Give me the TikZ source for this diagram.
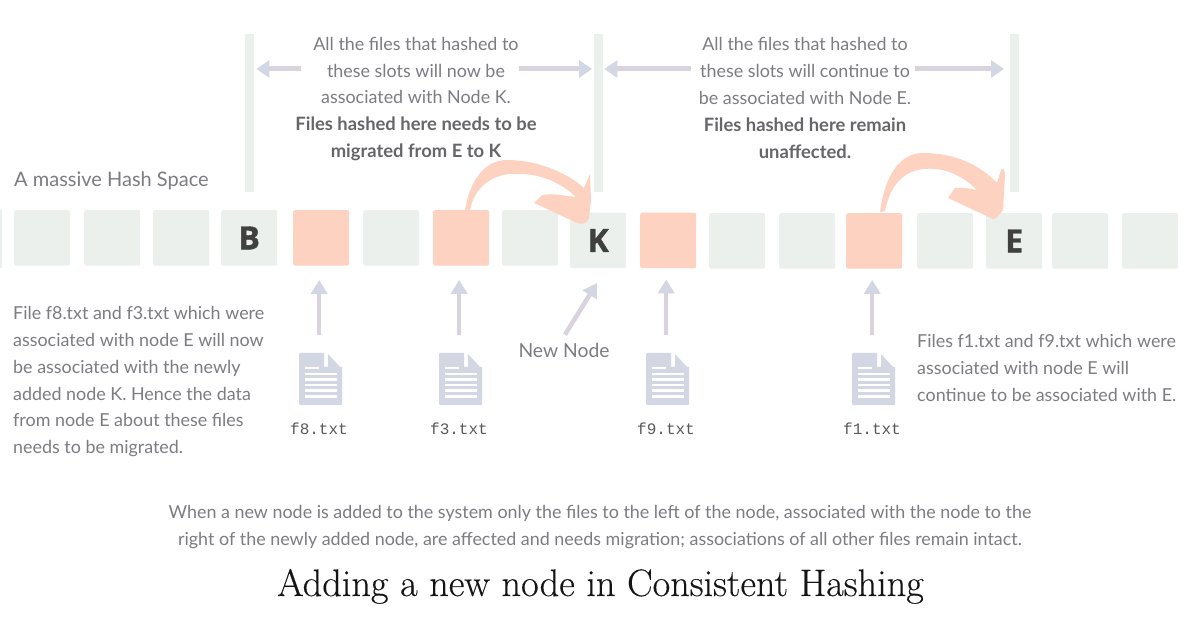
\documentclass[tikz,border=0pt]{standalone}
\usepackage{fontspec}
\setsansfont{Lato}
\newfontfamily\monof{Liberation Mono}
\newfontfamily\letf[FakeBold=1.2]{Open Sans}
\newfontfamily\titlef[FakeBold=0.3]{Latin Modern Roman}
\usetikzlibrary{arrows.meta}
\definecolor{slot}{HTML}{EBF0EC}
\definecolor{hot}{HTML}{FDD2C1}
\definecolor{lav}{HTML}{D3D7E4}
\definecolor{lavs}{HTML}{DAD2DC}
\definecolor{txt}{HTML}{7C7C82}
\definecolor{txtb}{HTML}{66666A}
\newcommand{\bl}[1]{\textcolor{txtb}{\fontsize{18.4}{26.9}\selectfont\bfseries #1}}
\tikzset{
 sq/.style={fill=slot,rounded corners=2pt,minimum width=56pt,minimum height=55.5pt,inner sep=0pt,anchor=north west,text=black!75,font=\letf\fontsize{32}{32}\selectfont\bfseries},
 hotsq/.style={sq,fill=hot},
 bar/.style={fill=slot,minimum width=9pt,minimum height=158pt,inner sep=0pt,anchor=north west},
 para/.style={font=\sffamily\fontsize{17.9}{26.9}\selectfont,text=txt,inner sep=0pt},
 fname/.style={font=\monof\fontsize{16}{16}\selectfont,text=black!65,inner sep=0pt},
 ptr/.style={draw=lavs,line width=4.5pt,-{Triangle[length=14pt,width=16pt,color=lav]}},
 hptr/.style={draw=lavs,line width=5pt,-{Triangle[length=13pt,width=17pt,color=lav]}},
 docbox/.style={minimum width=43pt,minimum height=52pt,inner sep=0pt,anchor=north west},
 docicon/.pic={
  \fill[lav] (0,0) -- (25,0) -- (25,14) -- (43,14) -- (43,50) [rounded corners=1pt] -- (43,52) -- (0,52) -- cycle;
  \fill[lav] (29,1) -- (41,14) -- (29,14) -- cycle;
  \fill[white] (6,14) rectangle (20,16.5);
  \foreach \yy in {20,25.5,31,36.5,42}{\fill[white] (6,\yy) rectangle (38,\yy+2.5);}
 },
}
\begin{document}
\begin{tikzpicture}[x=1pt,y=-1pt]
\useasboundingbox (0,0) rectangle (1200,628);
\fill[white] (0,0) rectangle (1200,628);
% bars
\node[bar] (barA) at (245,34) {};
\node[bar] (barB) at (594,34) {};
\node[bar] (barC) at (1010,34) {};
% slots
\fill[slot] (0,210) rectangle (2,268);
\node[sq] (s1) at (14,210) {};
\node[sq] (s2) at (84,210) {};
\node[sq] (s3) at (153,210) {};
\node[sq] (B) at (221,210) {B};
\node[hotsq] (s5) at (293,210) {};
\node[sq] (s6) at (363,210) {};
\node[hotsq] (s7) at (433,210) {};
\node[sq] (s8) at (502,210) {};
\node[sq] (K) at (570,212.5) {\raisebox{-1.5pt}{K}};
\node[hotsq] (s10) at (640,212.5) {};
\node[sq] (s11) at (709,213) {};
\node[sq] (s12) at (779,213) {};
\node[hotsq] (s13) at (846,213) {};
\node[sq] (s14) at (917,213) {};
\node[sq] (E) at (986,213) {E};
\node[sq] (s16) at (1052,213) {};
\node[sq] (s17) at (1122,213) {};
% curved arrows
\fill[hot] (465,210) .. controls (470,180) and (485,160) .. (507,160)
 .. controls (540,160) and (570,175) .. (584,188) -- (590,174) -- (591,200) -- (589,218)
 .. controls (586,225) and (580,225) .. (575,222) -- (534,203) -- (542,195)
 .. controls (555,193) and (565,196) .. (576,197) .. controls (560,182) and (540,174) .. (520,174)
 .. controls (495,172) and (475,185) .. (470,210) -- cycle;
\fill[hot] (880,212) .. controls (885,175) and (900,153) .. (923,153)
 .. controls (955,153) and (980,165) .. (997,183) -- (1001,170) .. controls (1003,167) and (1005,170) .. (1005,175)
 -- (1003,210) .. controls (998,217) and (995,219) .. (993,219) -- (948,198) -- (955,188)
 .. controls (965,187) and (975,190) .. (977,190) .. controls (965,178) and (950,170) .. (935,169)
 .. controls (905,166) and (890,185) .. (885,211) -- cycle;
% horizontal pointers
\coordinate (t1) at (301,69);
\coordinate (t2) at (519,69);
\coordinate (t3) at (691,69);
\coordinate (t4) at (915,69);
\draw[hptr,shorten >=2pt] (t1) -- (barA.east |- t1);
\draw[hptr,shorten >=2pt] (t2) -- (barB.west |- t2);
\draw[hptr,shorten >=1pt] (t3) -- (barB.east |- t3);
\draw[hptr,shorten >=6pt] (t4) -- (barC.west |- t4);
% documents
\node[docbox] (d8) at (299,353) {};
\node[docbox] (d3) at (439,353) {};
\node[docbox] (d9) at (646,353) {};
\node[docbox] (d1) at (852,353) {};
\pic at (d8.north west) {docicon};
\pic at (d3.north west) {docicon};
\pic at (d9.north west) {docicon};
\pic at (d1.north west) {docicon};
\node[fname] (n8) at (319,429) {f8.txt};
\node[fname] (n3) at (459,429) {f3.txt};
\node[fname] (n9) at (666,429) {f9.txt};
\node[fname] (n1) at (872,429) {f1.txt};
% up pointers
\draw[ptr,shorten <=18pt,shorten >=14pt] ([xshift=-1.5pt]d8.north) -- ([xshift=-1.5pt]d8.north |- s5.south);
\draw[ptr,shorten <=18pt,shorten >=14pt] ([xshift=-1.5pt]d3.north) -- ([xshift=-1.5pt]d3.north |- s7.south);
\draw[ptr,shorten <=18pt,shorten >=11pt] ([xshift=-1.5pt]d9.north) -- ([xshift=-1.5pt]d9.north |- s10.south);
\draw[ptr,shorten <=18pt,shorten >=11pt] ([xshift=-1.5pt]d1.north) -- ([xshift=-1.5pt]d1.north |- s13.south);
\node[para,anchor=center,font=\sffamily\fontsize{19.3}{24}\selectfont] (newnode) at (564,350) {New Node};
\coordinate (nnEnd) at (597,283);
\draw[ptr] (newnode.north) ++(1,-8) coordinate (nn) (nn) -- (nnEnd);
% texts
\node[para,anchor=west,font=\sffamily\fontsize{20}{24}\selectfont] (hs) at (14,181) {A massive Hash Space};
\node[para,align=center] (topA) at (416,99) {All the files that hashed to\\these slots will now be\\associated with Node K.\\\bl{Files hashed here needs to be}\\\bl{migrated from E to K}};
\node[para,align=center] (topB) at (805,98) {All the files that hashed to\\these slots will continue to\\be associated with Node E.\\\bl{Files hashed here remain}\\\bl{unaffected.}};
\node[para,align=left,anchor=north west] (leftT) at (13,306) {File f8.txt and f3.txt which were\\associated with node E will now\\be associated with the newly\\added node K. Hence the data\\from node E about these files\\needs to be migrated.};
\node[para,align=left,anchor=north west,font=\sffamily\fontsize{17.9}{27}\selectfont] (rightT) at (917,334) {Files f1.txt and f9.txt which were\\associated with node E will\\continue to be associated with E.};
\node[para,align=center] (bottomT) at (600,527) {When a new node is added to the system only the files to the left of the node, associated with the node to the\\right of the newly added node, are affected and needs migration; associations of all other files remain intact.};
\node[inner sep=0pt,anchor=base,font=\titlef\fontsize{38.3}{44}\selectfont,text=black!92] (title) at (600.5,596) {Adding a new node in Consistent Hashing};
\end{tikzpicture}
\end{document}
